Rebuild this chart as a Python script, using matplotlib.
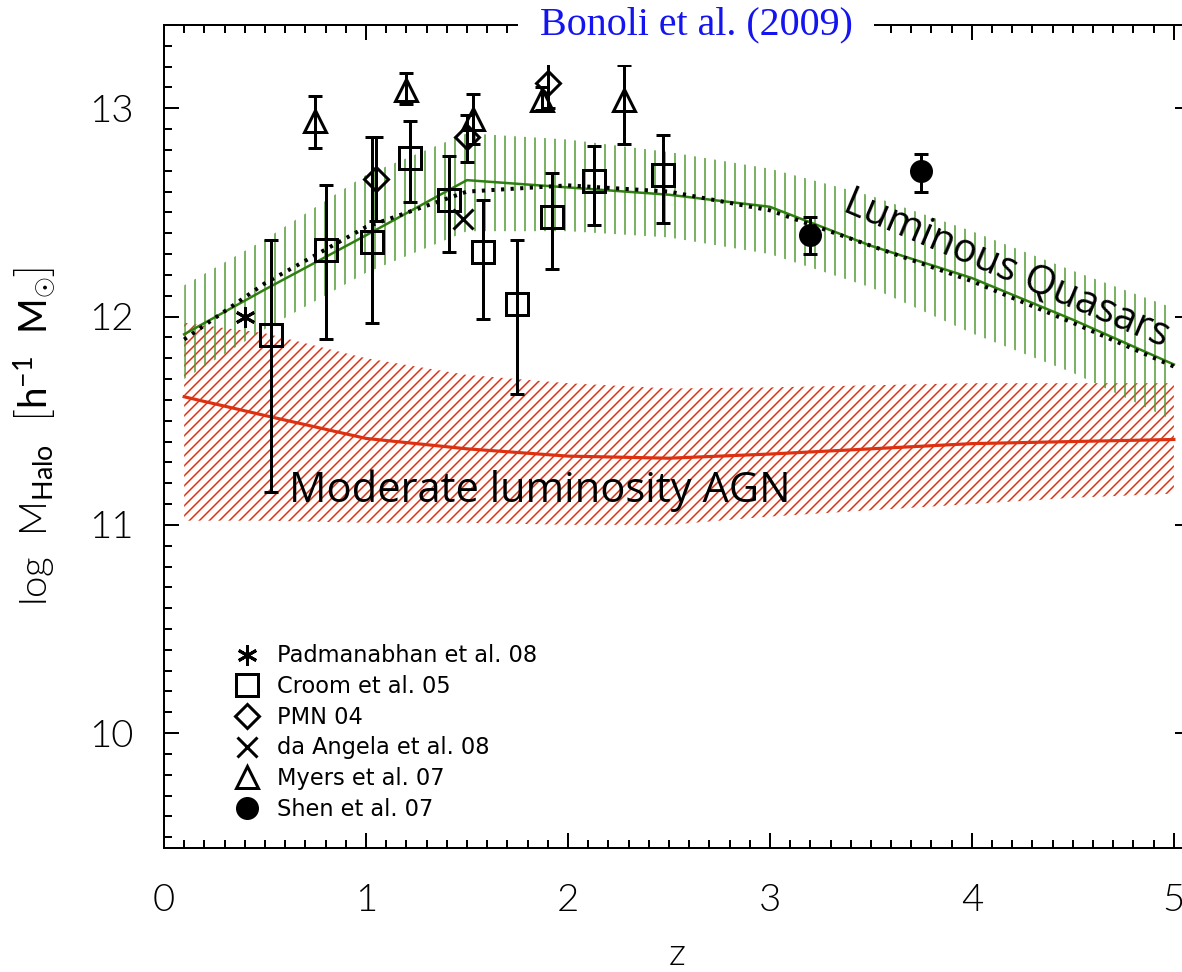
import numpy as np
import matplotlib
matplotlib.use("Agg")
import matplotlib.pyplot as plt
from matplotlib.ticker import MultipleLocator

# model curves, log M_halo vs z
z_band = [0.1, 0.5, 1.0, 1.5, 2.0, 2.5, 3.0, 3.5, 4.0, 4.5, 5.0]
qso_mid = [11.915, 12.13, 12.39, 12.655, 12.62, 12.585, 12.527, 12.34, 12.185, 11.985, 11.77]
qso_dot = [11.89, 12.16, 12.43, 12.60, 12.63, 12.60, 12.51, 12.34, 12.17, 11.97, 11.76]
qso_hi = [12.15, 12.37, 12.68, 12.88, 12.85, 12.79, 12.71, 12.58, 12.41, 12.22, 12.04]
qso_lo = [11.70, 11.94, 12.21, 12.41, 12.41, 12.38, 12.30, 12.14, 11.92, 11.73, 11.50]
agn_mid = [11.615, 11.525, 11.415, 11.365, 11.33, 11.32, 11.34, 11.365, 11.39, 11.40, 11.41]
agn_hi = [11.97, 11.92, 11.80, 11.72, 11.68, 11.655, 11.66, 11.67, 11.68, 11.68, 11.68]
agn_lo = [11.02, 11.02, 11.01, 11.01, 11.00, 11.00, 11.04, 11.07, 11.10, 11.13, 11.15]

# observations
padm_z = [0.40]
padm_m = [12.00]

croom_z = [0.53, 0.80, 1.03, 1.22, 1.41, 1.58, 1.75, 1.92, 2.13, 2.47]
croom_m = [11.91, 12.32, 12.36, 12.76, 12.56, 12.31, 12.06, 12.48, 12.65, 12.68]
croom_lo = [11.16, 11.89, 11.97, 12.55, 12.31, 11.99, 11.63, 12.23, 12.44, 12.45]
croom_hi = [12.37, 12.63, 12.86, 12.94, 12.77, 12.56, 12.37, 12.69, 12.82, 12.87]

pmn_z = [1.05, 1.50, 1.90]
pmn_m = [12.66, 12.86, 13.12]
pmn_lo = [12.46, 12.74, 13.00]
pmn_hi = [12.86, 12.97, 13.23]

dang_z = [1.48]
dang_m = [12.47]

myers_z = [0.75, 1.20, 1.53, 1.87, 2.28]
myers_m = [12.94, 13.09, 12.95, 13.04, 13.04]
myers_lo = [12.81, 13.02, 12.83, 12.99, 12.83]
myers_hi = [13.06, 13.17, 13.07, 13.10, 13.21]

shen_z = [3.20, 3.75]
shen_m = [12.39, 12.70]
shen_lo = [12.30, 12.60]
shen_hi = [12.48, 12.78]

TICKFONT = "Lato"
plt.rcParams["mathtext.fontset"] = "custom"
plt.rcParams["mathtext.rm"] = TICKFONT
plt.rcParams["mathtext.it"] = TICKFONT


def yerr(m, lo, hi):
    m, lo, hi = map(np.asarray, (m, lo, hi))
    return [m - lo, hi - m]


fig = plt.figure(figsize=(9.85, 8.1), dpi=120)
ax = fig.add_axes([0.1387, 0.1279, 0.8681, 0.8464])

### bands
red = "#dd3010"
green = "#2f7f10"
with plt.rc_context({"hatch.linewidth": 0.9}):
    ax.fill_between(z_band, agn_lo, agn_hi, facecolor="none", edgecolor=red,
                    hatch="////", linewidth=0, zorder=1)
with plt.rc_context({"hatch.linewidth": 0.9}):
    ax.fill_between(z_band, qso_lo, qso_hi, facecolor="none", edgecolor="#4f9a30",
                    hatch="||", linewidth=0, zorder=2)

ax.plot(z_band, agn_mid, color=red, lw=1.9, zorder=3)
ax.plot(z_band, qso_mid, color=green, lw=1.5, zorder=3)
ax.plot(z_band, qso_dot, color="black", lw=2.4, ls=(0, (0.8, 1.6)), zorder=3)

### data points
eb = dict(fmt="none", ecolor="black", elinewidth=1.8, capsize=4.2, capthick=1.8, zorder=4)
ax.errorbar(croom_z, croom_m, yerr=yerr(croom_m, croom_lo, croom_hi), **eb)
ax.errorbar(pmn_z, pmn_m, yerr=yerr(pmn_m, pmn_lo, pmn_hi), **eb)
ax.errorbar(myers_z, myers_m, yerr=yerr(myers_m, myers_lo, myers_hi), **eb)
ax.errorbar(shen_z, shen_m, yerr=yerr(shen_m, shen_lo, shen_hi), **eb)

mk = dict(ls="none", color="black", mfc="none", mec="black", mew=1.8, zorder=5)
ax.plot(padm_z, padm_m, marker=(6, 2, 0), ms=12, label="Padmanabhan et al. 08", **mk)
ax.plot(croom_z, croom_m, marker="s", ms=13.5, label="Croom et al. 05", **mk)
ax.plot(pmn_z, pmn_m, marker="D", ms=10, label="PMN 04", **mk)
ax.plot(dang_z, dang_m, marker="x", ms=12, label="da Angela et al. 08", **mk)
ax.plot(myers_z, myers_m, marker="^", ms=13, label="Myers et al. 07", **mk)
mk_fill = dict(mk, mfc="black")
ax.plot(shen_z, shen_m, marker="o", ms=12, label="Shen et al. 07", **mk_fill)

leg = ax.legend(loc="upper left", bbox_to_anchor=(0.07, 0.247), frameon=False,
                handlelength=1.0, handletextpad=0.85, labelspacing=0.34,
                borderaxespad=0, borderpad=0,
                prop={"family": "DejaVu Sans", "size": 13.5})

### annotations
ax.text(0.62, 11.11, "Moderate luminosity AGN", family="Open Sans", fontsize=25,
        ha="left", va="baseline", zorder=6)
ax.text(4.17, 12.23, "Luminous Quasars", family="Open Sans", fontsize=24,
        rotation=-23, rotation_mode="anchor", ha="center", va="center", zorder=6)
ax.text(0.5185, 1.0, "Bonoli et al. (2009)", transform=ax.transAxes,
        family="Liberation Serif", fontsize=24, color="#1414f0",
        ha="center", va="center", zorder=10, clip_on=False,
        bbox=dict(boxstyle="square,pad=0.55", fc="white", ec="none"))

### axes
ax.set_xlim(0, 5.08)
ax.set_ylim(9.45, 13.4)
ax.xaxis.set_major_locator(MultipleLocator(1))
ax.xaxis.set_minor_locator(MultipleLocator(0.1))
ax.yaxis.set_major_locator(MultipleLocator(1))
ax.yaxis.set_minor_locator(MultipleLocator(0.1))
ax.tick_params(which="both", direction="in", top=True, right=True, width=1.2,
               color="black")
ax.tick_params(which="major", length=9)
ax.tick_params(which="minor", length=4.8)
ax.tick_params(axis="x", which="major", pad=22)
ax.tick_params(axis="y", which="major", pad=18)
for lab in ax.get_xticklabels() + ax.get_yticklabels():
    lab.set_family(TICKFONT)
    lab.set_fontsize(23)
    lab.set_fontweight(300)
for sp in ax.spines.values():
    sp.set_linewidth(1.2)

ax.set_xlabel("z", family=TICKFONT, fontsize=23, fontweight=300, labelpad=12)
ax.set_ylabel(r"log  M$_{\mathrm{Halo}}$  $\left[\mathrm{h}^{-1}\ \ \mathrm{M}_{\odot}\right]$",
              family=TICKFONT, fontsize=23, fontweight=300, labelpad=18)

fig.savefig("out.png", dpi=120)
